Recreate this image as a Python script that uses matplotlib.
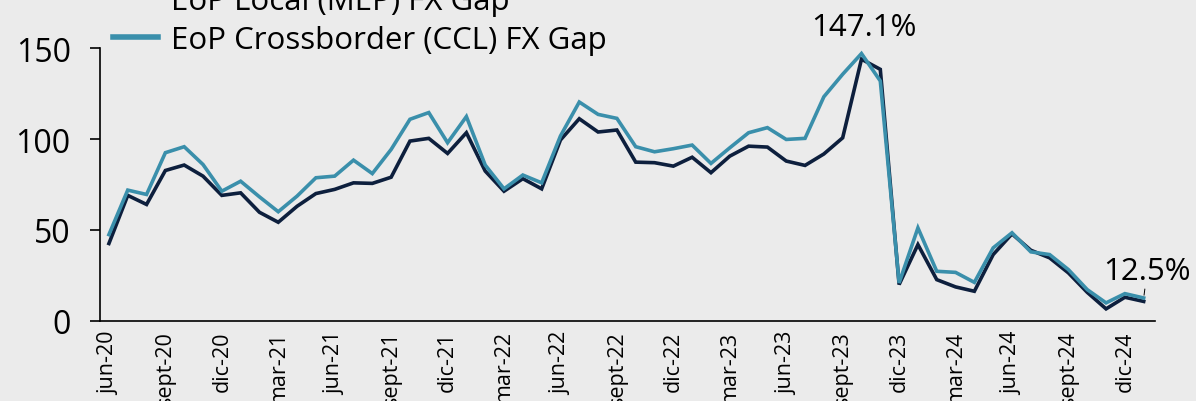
import matplotlib
matplotlib.use("Agg")
import matplotlib.pyplot as plt
import numpy as np

plt.rcParams["font.family"] = ["Open Sans", "DejaVu Sans"]

# Meses: jun-20 ... ene-25 (56 puntos)
meses = ["jun-20", "jul-20", "ago-20", "sept-20", "oct-20", "nov-20", "dic-20",
         "ene-21", "feb-21", "mar-21", "abr-21", "may-21", "jun-21", "jul-21",
         "ago-21", "sept-21", "oct-21", "nov-21", "dic-21", "ene-22", "feb-22",
         "mar-22", "abr-22", "may-22", "jun-22", "jul-22", "ago-22", "sept-22",
         "oct-22", "nov-22", "dic-22", "ene-23", "feb-23", "mar-23", "abr-23",
         "may-23", "jun-23", "jul-23", "ago-23", "sept-23", "oct-23", "nov-23",
         "dic-23", "ene-24", "feb-24", "mar-24", "abr-24", "may-24", "jun-24",
         "jul-24", "ago-24", "sept-24", "oct-24", "nov-24", "dic-24", "ene-25"]

# Brecha MEP (EoP Local)
mep = [42.5, 69.0, 64.0, 82.7, 85.7, 79.6, 69.0, 70.4, 59.7, 54.2,
       63.0, 70.0, 72.3, 75.9, 75.6, 79.0, 98.9, 100.4, 92.1, 103.5,
       82.4, 71.3, 78.2, 72.6, 99.5, 111.2, 103.9, 105.0, 87.3, 87.0,
       85.1, 90.0, 81.5, 90.6, 96.1, 95.6, 87.9, 85.5, 91.8, 100.7,
       144.0, 138.4, 19.9, 41.9, 22.6, 18.6, 16.2, 36.4, 47.8, 38.8,
       34.6, 26.3, 15.6, 6.5, 12.9, 10.6]

# Brecha CCL (EoP Crossborder)
ccl = [47.4, 71.9, 69.5, 92.5, 95.8, 86.0, 71.3, 76.8, 68.2, 60.0,
       68.6, 78.7, 79.6, 88.4, 81.0, 94.3, 110.9, 114.6, 98.0, 112.4,
       85.7, 72.6, 80.2, 75.9, 101.7, 120.4, 113.6, 111.4, 95.8, 93.0,
       94.7, 96.7, 86.6, 95.2, 103.5, 106.3, 99.8, 100.4, 123.3, 135.7,
       147.1, 132.0, 20.8, 51.1, 27.2, 26.6, 21.1, 40.1, 48.4, 37.9,
       36.4, 28.1, 17.1, 9.8, 14.9, 12.5]

azul_osc = "#0d1f3d"
turquesa = "#3a8fab"
fondo = "#ebebeb"

x = np.arange(len(meses))

fig = plt.figure(figsize=(11.96, 4.02), dpi=100, facecolor=fondo)
ax = fig.add_axes([0.084, 0.1998, 0.8817, 0.6776])
ax.set_facecolor(fondo)

ax.plot(x, mep, color=azul_osc, lw=2.6, label="EoP Local (MEP) FX Gap", solid_joinstyle="miter")
ax.plot(x, ccl, color=turquesa, lw=2.6, label="EoP Crossborder (CCL) FX Gap", solid_joinstyle="miter")

ax.set_xlim(-0.45, 55.6)
ax.set_ylim(0, 150)
ax.set_yticks([0, 50, 100, 150])
ax.tick_params(axis="y", labelsize=23, length=7.5, width=1.2, pad=14, direction="out")
ax.set_xticks(x[::3])
ax.set_xticklabels(meses[::3], rotation=90, fontsize=15.5)
ax.tick_params(axis="x", length=0, pad=7)

for s in ["top", "right"]:
    ax.spines[s].set_visible(False)
ax.spines["left"].set_linewidth(1.2)
ax.spines["bottom"].set_linewidth(1.2)

# Etiquetas de máximo y último valor
i_max = int(np.argmax(ccl))
ax.annotate(f"{ccl[i_max]:.1f}%", xy=(x[i_max], ccl[i_max]), xytext=(1.5, 13.5),
            textcoords="offset points", ha="center", va="baseline", fontsize=22.5,
            annotation_clip=False)
ax.annotate(f"{ccl[-1]:.1f}%", xy=(x[-1], ccl[-1]), xytext=(2.5, 13.5),
            textcoords="offset points", ha="center", va="baseline", fontsize=22.5,
            annotation_clip=False,
            arrowprops=dict(arrowstyle="-", color="black", lw=0.7, shrinkA=0, shrinkB=2))

leg = ax.legend(loc="lower left", bbox_to_anchor=(0.012, 0.974), frameon=False, fontsize=22.5,
                handlelength=1.45, handletextpad=0.4, borderaxespad=0, borderpad=0,
                labelspacing=0.3)
for l in leg.get_lines():
    l.set_linewidth(4)

fig.savefig("out.png", dpi=100, facecolor=fondo)
